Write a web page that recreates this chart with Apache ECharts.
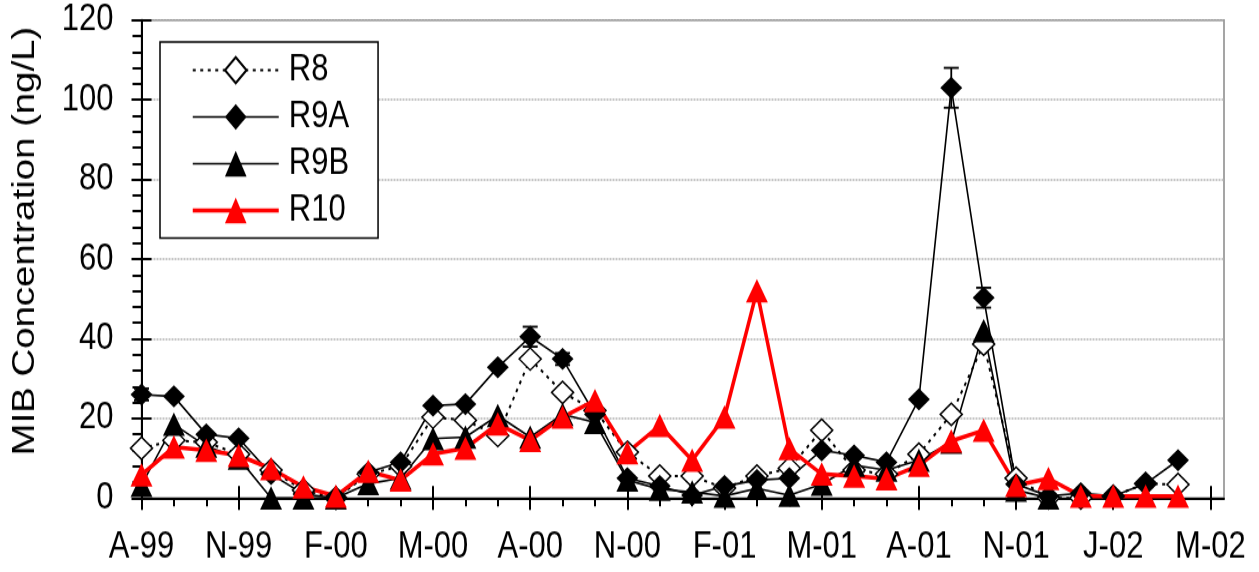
<!DOCTYPE html>
<html>
<head>
<meta charset="utf-8">
<script src="https://cdn.jsdelivr.net/npm/echarts@6/dist/echarts.min.js"></script>
<style>
  html, body { margin: 0; padding: 0; background: #fff; overflow: hidden; }
  #wrap { width: 1259px; height: 572px; overflow: hidden; }
  /* the reference picture is stretched vertically, so draw shorter and stretch */
  #chart { width: 1259px; height: 477px; transform: scaleY(1.19916); transform-origin: 0 0; }
</style>
</head>
<body>
<div id="wrap"><div id="chart"></div></div>
<script>
// tick labels every 3 months, sample index 0 = A-99, one sample per month
var tickLabels = ['A-99', 'N-99', 'F-00', 'M-00', 'A-00', 'N-00', 'F-01', 'M-01', 'A-01', 'N-01', 'J-02', 'M-02'];

var r8 = [12.5, 14.5, 14, 11, 7, 2, 0, 6, 8, 20.3, 19.5, 15.7, 34.9, 26.5, 22, 11.5, 5.5, 5.5, 2.5, 5.5,
          7.5, 17, 7, 6, 11, 21, 38.6, 5, 0, 0, 0.5, 3.6, 3.4];
var r9a = [26, 25.5, 16, 15, 6, 1, 0, 6.5, 9, 23.2, 23.6, 32.8, 40.5, 34.9, 21, 5, 3, 0.7, 3, 4.5,
           5, 12, 10.7, 9, 24.8, 103, 50.3, 3.5, 0.5, 1.2, 0.5, 3.6, 9.5];
var r9b = [3.2, 18.5, 13, 10, 0, 0, 0, 3.6, 5, 14.9, 15.3, 20.7, 15.3, 21, 19, 4.5, 2.2, 1.5, 0.5, 2.4,
           0.7, 3.5, 8.2, 7, 9.5, 14, 42, 2, 0];
var r10 = [5.8, 12.8, 12, 10.7, 7.4, 2.8, 0.5, 6.7, 4.5, 11.1, 12.5, 18.6, 14.5, 20.3, 24.5, 11.4, 18.2, 9.5, 20.3, 52,
           12.4, 6, 5.5, 4.8, 8.2, 14.3, 17, 3.2, 4.9, 0.5, 0.5, 0.5, 0.5];
// error bars on R9A: [sample index, +/- value]
var r9aErr = [[0, 1.5], [12, 2.5], [13, 1.5], [25, 5], [26, 2.5]];

var xMax = 33.42;
var majorTicks = tickLabels.map(function (l, i) { return i * 3; });
var minorTicks = [];
for (var m = 0; m <= 33; m++) minorTicks.push(m);

function pairs(arr) {
    return arr.map(function (v, i) { return [i, v]; });
}
var errData = r9aErr.map(function (e) {
    var v = r9a[e[0]];
    return [e[0], v - e[1], v + e[1]];
});

var font = 'Liberation Sans, Arial, sans-serif';
var myChart = echarts.init(document.getElementById('chart'));

myChart.setOption({
    animation: false,
    backgroundColor: '#fff',
    textStyle: { fontFamily: font, color: '#000' },
    grid: {
        left: 141.5, right: 35, top: 16.7, bottom: 61.7,
        show: true, borderColor: '#888', borderWidth: 1.5
    },
    legend: {
        data: ['R8', 'R9A', 'R9B', 'R10'],
        orient: 'vertical',
        left: 160, top: 35,
        padding: [8, 29, 7.5, 31],
        itemWidth: 86, itemHeight: 27, itemGap: 8,
        borderColor: '#000', borderWidth: 1.5,
        backgroundColor: '#fff',
        lineStyle: { width: 'inherit' },
        textStyle: { fontFamily: font, fontSize: 31, lineHeight: 31, color: '#000', padding: [0, 0, 0, 5] }
    },
    graphic: [{
        type: 'text',
        x: 25, y: 201,
        rotation: Math.PI / 2,
        style: {
            text: 'MIB Concentration (ng/L)',
            font: '32px ' + font,
            fill: '#000',
            align: 'center',
            verticalAlign: 'middle'
        }
    }],
    xAxis: [{
        type: 'value', min: 0, max: xMax,
        axisLine: { lineStyle: { color: '#000', width: 2 } },
        axisTick: { show: true, length: 10, customValues: majorTicks, lineStyle: { color: '#000', width: 2 } },
        axisLabel: {
            customValues: majorTicks, margin: 26, fontSize: 31, color: '#000', fontFamily: font,
            formatter: function (v) { return tickLabels[Math.round(v / 3)]; }
        },
        splitLine: { show: false }
    }, {
        type: 'value', min: 0, max: xMax, position: 'bottom',
        axisLine: { show: false },
        axisTick: { show: true, inside: true, length: 10, customValues: majorTicks, lineStyle: { color: '#000', width: 2 } },
        axisLabel: { show: false },
        splitLine: { show: false }
    }, {
        type: 'value', min: 0, max: xMax, position: 'bottom',
        axisLine: { show: false },
        axisTick: { show: true, length: 7, customValues: minorTicks, lineStyle: { color: '#000', width: 2 } },
        axisLabel: { show: false },
        splitLine: { show: false }
    }],
    yAxis: [{
        type: 'value', min: 0, max: 120, interval: 20,
        axisLine: { show: true, lineStyle: { color: '#000', width: 2 } },
        axisTick: { show: true, length: 10, lineStyle: { color: '#000', width: 2 } },
        minorTick: { show: true, splitNumber: 5, length: 9, lineStyle: { color: '#000', width: 2 } },
        axisLabel: { margin: 28, fontSize: 31, color: '#000', fontFamily: font },
        splitLine: { show: true, lineStyle: { color: '#b4b4b4', width: 1.5, type: [2, 1] } }
    }, {
        type: 'value', min: 0, max: 120, interval: 20, position: 'left',
        axisLine: { show: false },
        axisTick: { show: true, inside: true, length: 10, lineStyle: { color: '#000', width: 2 } },
        axisLabel: { show: false },
        splitLine: { show: false }
    }],
    series: [{
        name: 'R8', type: 'line',
        data: pairs(r8),
        symbol: 'diamond', symbolSize: [22, 18.5],
        itemStyle: { color: '#fff', borderColor: '#000', borderWidth: 1.5 },
        lineStyle: { color: '#000', width: 2, type: [3, 4.5] }
    }, {
        name: 'R9A', type: 'line',
        data: pairs(r9a),
        symbol: 'diamond', symbolSize: [22, 18.5],
        itemStyle: { color: '#000' },
        lineStyle: { color: '#000', width: 1.6 }
    }, {
        name: 'R9A err', type: 'custom',
        data: errData,
        encode: { x: 0, y: [1, 2] },
        silent: true,
        renderItem: function (params, api) {
            var x = api.value(0);
            var lo = api.coord([x, api.value(1)]), hi = api.coord([x, api.value(2)]);
            var w = 7.5, st = { stroke: '#000', lineWidth: 1.8 };
            return {
                type: 'group',
                children: [
                    { type: 'line', shape: { x1: lo[0], y1: lo[1], x2: hi[0], y2: hi[1] }, style: st },
                    { type: 'line', shape: { x1: hi[0] - w, y1: hi[1], x2: hi[0] + w, y2: hi[1] }, style: st },
                    { type: 'line', shape: { x1: lo[0] - w, y1: lo[1], x2: lo[0] + w, y2: lo[1] }, style: st }
                ]
            };
        }
    }, {
        name: 'R9B', type: 'line',
        data: pairs(r9b),
        symbol: 'triangle', symbolSize: [22, 19.5],
        itemStyle: { color: '#000' },
        lineStyle: { color: '#000', width: 1.6 }
    }, {
        name: 'R10', type: 'line',
        data: pairs(r10),
        symbol: 'triangle', symbolSize: [22, 19.5],
        itemStyle: { color: '#ff0000' },
        lineStyle: { color: '#ff0000', width: 3.5 }
    }]
});
</script>
</body>
</html>
